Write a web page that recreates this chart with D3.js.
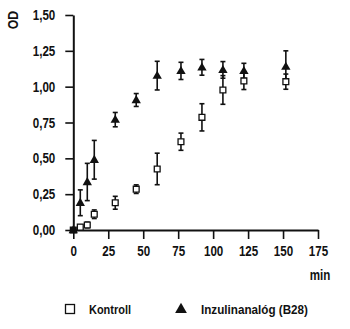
<!DOCTYPE html>
<html><head><meta charset="utf-8">
<script src="https://cdn.jsdelivr.net/npm/d3@7"></script>
<style>
body{margin:0;background:#fff;}
svg{display:block;}
text{font-family:"Liberation Sans",Arial,sans-serif;fill:#111;}
</style></head><body>
<script>
// Data
const times = [0, 5, 10, 15, 30, 45, 60, 77, 92, 107, 122, 152];
const kontroll = [0.00, 0.02, 0.035, 0.11, 0.19, 0.285, 0.426, 0.616, 0.786, 0.977, 1.04, 1.035];
const kontrollErr = [0.0, 0.015, 0.02, 0.03, 0.045, 0.03, 0.11, 0.06, 0.095, 0.1, 0.06, 0.053];
const inzulin = [0.00, 0.19, 0.335, 0.49, 0.77, 0.907, 1.077, 1.11, 1.135, 1.117, 1.11, 1.14];
const inzulinErr = [0.0, 0.09, 0.13, 0.135, 0.05, 0.045, 0.10, 0.06, 0.055, 0.058, 0.053, 0.11];
const xTicks = [0, 25, 50, 75, 100, 125, 150, 175];
const yTicks = [0, 0.25, 0.5, 0.75, 1.0, 1.25, 1.5];
const legendLabels = ["Kontroll", "Inzulinanalóg (B28)"];

const W = 350, H = 329;
const svg = d3.select("body").append("svg").attr("width", W).attr("height", H);

const x = d3.scaleLinear().domain([0, 175]).range([73.3, 318]);
const y = d3.scaleLinear().domain([0, 1.5]).range([230, 15]);
const fmt = d => d3.format(".2f")(d).replace(".", ",");

function condense(sel, f) {
  sel.each(function () {
    const w = this.getComputedTextLength();
    d3.select(this).attr("textLength", w * f).attr("lengthAdjust", "spacingAndGlyphs");
  });
}

// Axes
const gx = svg.append("g").attr("transform", `translate(0,${y(0)})`)
  .call(d3.axisBottom(x).tickValues(xTicks).tickSize(9).tickPadding(8).tickSizeOuter(0));
const gy = svg.append("g").attr("transform", `translate(${x(0)},0)`)
  .call(d3.axisLeft(y).tickValues(yTicks).tickFormat(fmt).tickSize(8).tickPadding(10).tickSizeOuter(0));
[gx, gy].forEach(g => {
  g.select(".domain").attr("stroke", "#111").attr("stroke-width", 2);
  g.selectAll(".tick line").attr("stroke", "#111").attr("stroke-width", 1.6);
  g.selectAll(".tick text").attr("font-size", 14.5).attr("font-weight", "bold")
    .attr("font-family", '"Liberation Sans",Arial,sans-serif').attr("fill", "#111");
});
gx.selectAll(".tick text").attr("dy", "0.71em").attr("y", 16);
condense(gx.selectAll(".tick text"), 0.8);
condense(gy.selectAll(".tick text"), 0.8);

const od = svg.append("text").attr("transform", "translate(18,20) rotate(-90)")
  .attr("text-anchor", "middle").attr("font-size", 14.5).attr("font-weight", "bold").text("OD");
condense(od, 0.85);
const mn = svg.append("text").attr("x", 320).attr("y", 280).attr("text-anchor", "middle")
  .attr("font-size", 14.5).attr("font-weight", "bold").text("min");
condense(mn, 0.8);

// Error bars
function errBars(vals, errs) {
  const g = svg.append("g").attr("stroke", "#111").attr("stroke-width", 1.6);
  times.forEach((t, i) => {
    if (errs[i] <= 0) return;
    const cx = x(t), y1 = y(vals[i] + errs[i]), y2 = y(vals[i] - errs[i]);
    g.append("line").attr("x1", cx).attr("x2", cx).attr("y1", y1).attr("y2", y2);
    g.append("line").attr("x1", cx - 2.5).attr("x2", cx + 2.5).attr("y1", y1).attr("y2", y1);
    g.append("line").attr("x1", cx - 2.5).attr("x2", cx + 2.5).attr("y1", y2).attr("y2", y2);
  });
}
errBars(kontroll, kontrollErr);
errBars(inzulin, inzulinErr);

const sq = d3.symbol().type(d3.symbolSquare).size(34);
const tri = d3.symbol().type(d3.symbolTriangle).size(38);

svg.append("g").selectAll("path").data(times).join("path")
  .attr("d", sq).attr("transform", (t, i) => `translate(${x(t)},${y(kontroll[i])})`)
  .attr("fill", (t, i) => i === 0 ? "#111" : "#fff").attr("stroke", "#111").attr("stroke-width", 1.3);
svg.append("g").selectAll("path").data(times).join("path")
  .attr("d", tri).attr("transform", (t, i) => `translate(${x(t)},${y(inzulin[i]) + 0.5})`)
  .attr("fill", "#111");

// Legend
const lg = svg.append("g");
lg.append("rect").attr("x", 65.5).attr("y", 304.5).attr("width", 9).attr("height", 9)
  .attr("fill", "#fff").attr("stroke", "#111").attr("stroke-width", 1.3);
const l1 = lg.append("text").attr("x", 89).attr("y", 314).attr("font-size", 13.5).attr("font-weight", "bold").text(legendLabels[0]);
lg.append("path").attr("d", d3.symbol().type(d3.symbolTriangle).size(60)())
  .attr("transform", "translate(181,309.5)").attr("fill", "#111");
const l2 = lg.append("text").attr("x", 201).attr("y", 314).attr("font-size", 13.5).attr("font-weight", "bold").text(legendLabels[1]);
l1.attr("textLength", 42).attr("lengthAdjust", "spacingAndGlyphs");
l2.attr("textLength", 107).attr("lengthAdjust", "spacingAndGlyphs");
</script>
</body></html>
